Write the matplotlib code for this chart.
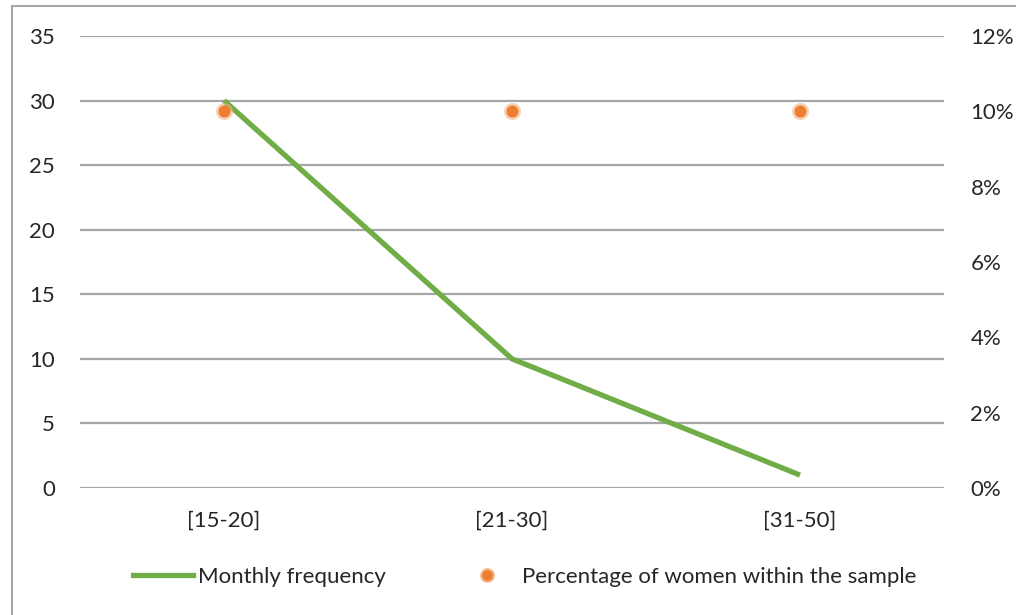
import matplotlib.pyplot as plt
from matplotlib.patches import Rectangle
from matplotlib.lines import Line2D

categories = ['[15-20]', '[21-30]', '[31-50]']
monthly_frequency = [30, 10, 1]
pct_women = [0.10, 0.10, 0.10]

left_ticks = [0, 5, 10, 15, 20, 25, 30, 35]
right_ticks = [0, 0.02, 0.04, 0.06, 0.08, 0.10, 0.12]

plt.rcParams['font.family'] = ['Lato', 'DejaVu Sans']
fig = plt.figure(figsize=(10.16, 6.15), dpi=100)

# outer chart frame
fig.patches.append(Rectangle((12 / 1016, -0.1), 1.2, (615 - 6) / 615 + 0.1,
                             transform=fig.transFigure, fill=False,
                             edgecolor='#a6a6a6', linewidth=1.5))

ax = fig.add_axes([80 / 1016, 127 / 615, 864 / 1016, 452 / 615])
x = list(range(len(categories)))

ax.set_xlim(-0.5, len(categories) - 0.5)
ax.set_ylim(0, 35)
ax.set_yticks(left_ticks)
ax.grid(axis='y', color='#a6a6a6', linewidth=1.6)
ax.set_axisbelow(True)
for s in ax.spines.values():
    s.set_visible(False)
ax.tick_params(axis='both', length=0, labelsize=16, colors='#262626')
ax.tick_params(axis='y', pad=18)
ax.tick_params(axis='x', pad=16)
ax.set_xticks(x)
ax.set_xticklabels(categories)

ax.plot(x, monthly_frequency, color='#70ad47', linewidth=3.8, zorder=3,
        solid_capstyle='butt')

ax2 = ax.twinx()
ax2.set_ylim(0, 0.12)
ax2.set_yticks(right_ticks)
ax2.set_yticklabels([f'{int(round(v * 100))}%' for v in right_ticks])
for s in ax2.spines.values():
    s.set_visible(False)
ax2.tick_params(axis='y', length=0, labelsize=16, colors='#262626', pad=19)
ax2.scatter(x, pct_women, s=150, color='#f4b183', alpha=0.6, zorder=4, linewidths=0)
ax2.scatter(x, pct_women, s=75, color='#ed7d31', zorder=5, linewidths=0)

handles = [Line2D([0], [0], color='#70ad47', linewidth=3.8),
           Line2D([0], [0], marker='o', linestyle='none', markersize=9,
                  markerfacecolor='#ed7d31', markeredgecolor='#f4b183',
                  markeredgewidth=1.5)]
fig.legend(handles, ['Monthly frequency', 'Percentage of women within the sample'],
           loc='center', bbox_to_anchor=(525 / 1016, 1 - 577 / 615), ncol=2,
           frameon=False, fontsize=16, handlelength=2.7, columnspacing=3.2,
           handletextpad=0.22, labelcolor='#262626')

fig.savefig('out.png', dpi=100)
